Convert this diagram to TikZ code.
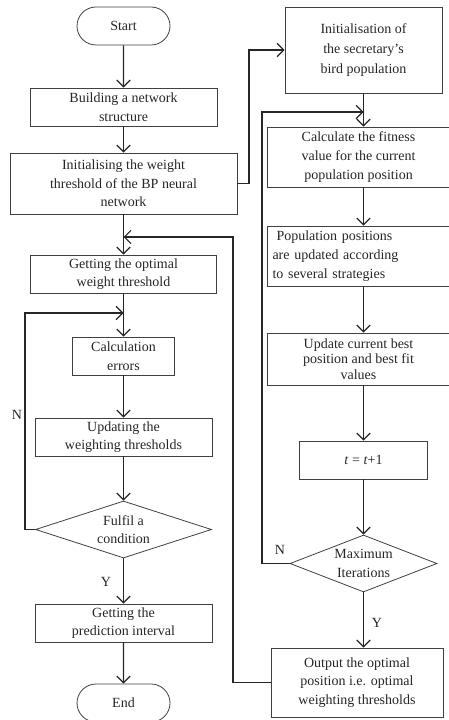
\documentclass[tikz,border=0pt]{standalone}
\usepackage{fontspec}
\setmainfont{Liberation Serif}
\usetikzlibrary{arrows.meta,shapes.misc,shapes.geometric}
\begin{document}
\begin{tikzpicture}[x=0.75pt,y=-0.75pt,
 every node/.style={font=\fontsize{10.5}{14}\selectfont, text=black!85},
 box/.style={draw=black!75, line width=0.6pt, align=center, inner sep=0pt},
 term/.style={box, rounded rectangle, minimum width=69.75pt, minimum height=28.5pt},
 dia/.style={draw=black!75, line width=0.6pt, diamond, inner sep=0pt},
 flow/.style={draw=black!85, line width=0.9pt, -{Straight Barb[length=5pt,width=10pt]}},
 lab/.style={inner sep=0pt}]
\useasboundingbox (0,0) rectangle (449,720);
\clip (0,0) rectangle (449,720);
% left column
\node[term] (start) at (123.5,26) {Start};
\node[box, minimum width=140.25pt, minimum height=28.5pt] (build) at (123.5,107) {Building a network\\structure};
\node[box, minimum width=170.25pt, minimum height=45.75pt] (init) at (123.5,183.5) {Initialising the weight\\threshold of the BP neural\\network};
\node[box, minimum width=139.5pt, minimum height=28.5pt] (opt) at (123.5,274) {Getting the optimal\\weight threshold};
\node[box, minimum width=76.5pt, minimum height=28.5pt] (calc) at (123.5,356) {Calculation\\errors};
\node[box, minimum width=132.75pt, minimum height=28.5pt] (upd) at (123.5,437) {Updating the\\weighting thresholds};
\node[dia, minimum width=132pt, minimum height=42.75pt, label={[align=center]center:Fulfil a\\condition}] (ful) at (123.5,529.5) {};
\node[box, minimum width=132.75pt, minimum height=28.5pt] (pred) at (123.5,623) {Getting the\\prediction interval};
\node[term] (end) at (123.5,703) {End};
% right column
\node[box, minimum width=117.75pt, minimum height=64.5pt, font=\fontsize{10.5}{15}\selectfont] (sinit) at (363.5,50) {Initialisation of\\the secretary’s\\bird population};
\node[box, minimum width=137.25pt, minimum height=45pt] (fit) at (358.5,157) {Calculate the fitness\\value for the current\\population position};
\node[box, minimum width=137.25pt, minimum height=45pt, align=left, text width=129pt] (pop) at (358.5,256) {\hspace*{3pt}Population positions\\are updated according\\to several strategies};
\node[box, minimum width=137.25pt, minimum height=39pt, font=\fontsize{10.5}{11.5}\selectfont] (best) at (358.5,359) {Update current best\\position and best fit\\values};
\node[box, minimum width=96pt, minimum height=28.5pt] (tt) at (363.5,460) {\textit{t} = \textit{t}+1};
\node[dia, minimum width=110.25pt, minimum height=42.75pt, label={[align=center]center:Maximum\\Iterations}] (max) at (363.5,563.5) {};
\node[box, minimum width=129pt, minimum height=51.75pt] (out) at (357,682.5) {Output the optimal\\position i.e. optimal\\weighting thresholds};
% labels
\node[lab] (nA) at (17,415) {N};
\node[lab] (yA) at (106,582) {Y};
\node[lab] (nB) at (280,550) {N};
\node[lab] (yB) at (377,623) {Y};
% junctions
\coordinate (j1) at (123.5,237);
\coordinate (j2) at (123.5,313);
\coordinate (j3) at (363.5,112);
\coordinate (c1) at (25,313);
\coordinate (c2) at (233,237);
\coordinate (c3) at (249,50);
\coordinate (c4) at (262,112);
% left flow
\draw[flow] (start) -- (build);
\draw[flow] (build) -- (init);
\draw[flow] (init) -- (opt);
\draw[flow] (opt) -- (calc);
\draw[flow] (calc) -- (upd);
\draw[flow] (upd) -- (ful);
\draw[flow] (ful) -- (pred);
\draw[flow] (pred) -- (end);
\draw[flow] (ful.west) -| (c1) -- (j2);
% right flow
\draw[flow] (init.east) -| (c3) -- (sinit.west);
\draw[flow] (sinit.south) -- (sinit.south |- fit.north);
\draw[flow] (fit.south -| sinit.south) -- (sinit.south |- pop.north);
\draw[flow] (pop.south -| sinit.south) -- (sinit.south |- best.north);
\draw[flow] (best.south -| sinit.south) -- (tt.north);
\draw[flow] (tt) -- (max);
\draw[flow] (max.south) -- (max.south |- out.north);
\draw[flow] (max.west) -| (c4) -- (j3);
\draw[flow] (out.west) -| (c2) -- (j1);
\end{tikzpicture}
\end{document}
